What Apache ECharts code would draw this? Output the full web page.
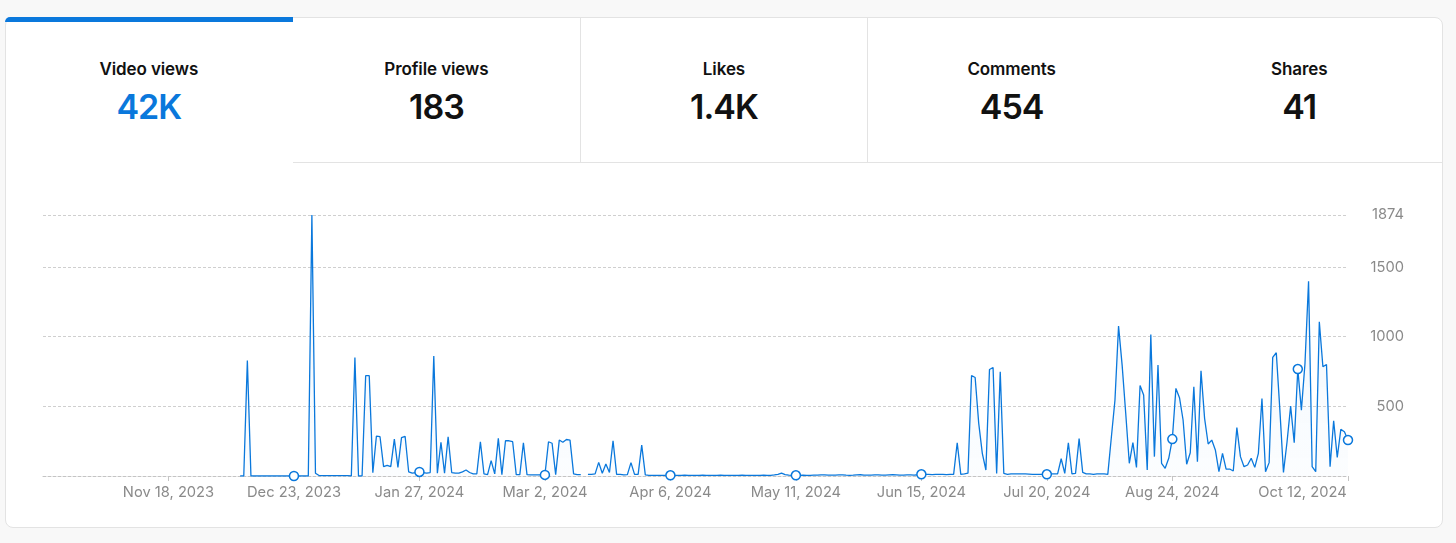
<!DOCTYPE html>
<html>
<head>
<meta charset="utf-8">
<script src="https://cdn.jsdelivr.net/npm/echarts@6/dist/echarts.min.js"></script>
<style>
  html,body{margin:0;padding:0;}
  body{width:1456px;height:543px;overflow:hidden;background:#f8f8f8;font-family:Inter,"Noto Sans",sans-serif;position:relative;}
  .card{position:absolute;left:5px;top:17px;width:1436px;height:509px;background:#fff;border:1px solid #e3e3e3;border-radius:8px;}
  .tab{position:absolute;top:17px;height:145px;text-align:center;}
  .tab .t{position:absolute;left:0;right:0;top:40px;font-size:17px;font-weight:600;color:#111;line-height:24px;letter-spacing:-0.1px;}
  .tab .v{position:absolute;left:0;right:0;top:69px;font-size:34px;font-weight:600;color:#111;line-height:42px;letter-spacing:-1px;}
  .tab.sel .v{color:#0a78dc;}
  .bar{position:absolute;left:5px;top:17px;width:288px;height:5px;background:#0a78dc;border-top-left-radius:8px;}
  .hline{position:absolute;left:293px;top:162px;width:1149px;height:1px;background:#e3e3e3;}
  .vline{position:absolute;top:18px;width:1px;height:144px;background:#e3e3e3;}
  #chart{position:absolute;left:0;top:163px;width:1456px;height:380px;}
</style>
</head>
<body>
<div class="card"></div>
<div class="bar"></div>
<div class="hline"></div>
<div class="vline" style="left:580px"></div>
<div class="vline" style="left:867px"></div>
<div id="tabs"></div>
<div id="chart"></div>
<script>
// ---- Data ----
const tabTitles = ['Video views', 'Profile views', 'Likes', 'Comments', 'Shares'];
const tabValues = ['42K', '183', '1.4K', '454', '41'];
const startDate = '2023-10-14';
const yTicks = [500, 1000, 1500, 1874];
const labelDays = [35, 70, 105, 140, 175, 210, 245, 280, 315, 364];
const markerDays = [70, 105, 140, 175, 210, 245, 280, 315, 350, 364];
const videoViews = [
  null,null,null,null,null,null,null,null,null,null,
  null,null,null,null,null,null,null,null,null,null,
  null,null,null,null,null,null,null,null,null,null,
  null,null,null,null,null,null,null,null,null,null,
  null,null,null,null,null,null,null,null,null,null,
  null,null,null,null,null,0,0,830,0,0,
  0,0,0,0,0,0,0,0,0,0,
  0,0,0,0,0,1874,20,3,3,3,
  3,3,3,3,3,3,0,851,0,0,
  720,720,24,287,282,67,77,67,265,62,
  275,285,29,20,25,29,25,20,25,861,
  20,242,20,282,25,20,20,30,43,25,
  15,15,246,15,10,110,15,270,10,253,
  253,246,10,10,239,10,8,8,8,8,
  8,246,235,10,258,242,262,258,15,10,
  10,null,12,12,15,98,20,86,25,253,
  12,12,8,10,96,12,12,222,8,5,
  5,5,5,5,5,5,5,4,5,6,
  5,4,5,5,6,5,4,5,5,6,
  5,5,4,5,5,6,5,5,4,5,
  5,6,5,5,8,12,20,10,6,5,
  5,5,6,5,5,6,7,8,8,6,
  6,7,8,8,6,5,6,8,9,7,
  6,7,8,8,7,6,8,9,8,6,
  7,8,8,7,9,12,12,12,10,12,
  12,12,10,12,12,239,12,15,20,722,
  707,378,163,43,765,779,19,748,19,12,
  15,15,15,15,15,14,12,12,12,12,
  12,15,15,15,124,19,239,15,19,268,
  26,15,15,12,15,15,15,12,280,545,
  1076,796,450,91,239,62,650,581,43,1016,
  139,796,91,55,127,265,629,562,402,84,
  167,641,103,755,414,230,258,187,31,163,
  50,50,36,347,139,67,79,127,62,163,
  557,31,96,851,885,473,26,246,502,239,
  768,473,808,1399,67,31,1107,784,801,67,
  397,134,335,318,258
];

// ---- Header tabs ----
const tabsEl = document.getElementById('tabs');
const tabW = 1438 / 5;
tabTitles.forEach((t, i) => {
  const d = document.createElement('div');
  d.className = 'tab' + (i === 0 ? ' sel' : '');
  d.style.left = (5 + tabW * i) + 'px';
  d.style.width = tabW + 'px';
  d.innerHTML = '<div class="t"></div><div class="v"></div>';
  d.querySelector('.t').textContent = t;
  d.querySelector('.v').textContent = tabValues[i];
  tabsEl.appendChild(d);
});

// ---- Categories (dates) ----
const MONTHS = ['Jan','Feb','Mar','Apr','May','Jun','Jul','Aug','Sep','Oct','Nov','Dec'];
const base = new Date(startDate + 'T00:00:00Z');
const categories = videoViews.map((_, i) => {
  const d = new Date(base.getTime() + i * 86400000);
  return MONTHS[d.getUTCMonth()] + ' ' + d.getUTCDate() + ', ' + d.getUTCFullYear();
});
const lastIdx = categories.length - 1;

const BLUE = '#0a78dc';
const GREY = '#8a8a8a';
const FS = 14.7;
const chart = echarts.init(document.getElementById('chart'), null, {renderer: 'canvas'});
chart.setOption({
  animation: false,
  grid: {left: 43, right: 108, top: 52, bottom: 67, containLabel: false},
  xAxis: {
    type: 'category',
    data: categories,
    boundaryGap: false,
    axisLine: {lineStyle: {color: '#c4c4c4', type: [3, 2]}},
    axisTick: {
      show: true,
      length: 5,
      interval: (idx) => labelDays.includes(idx),
      lineStyle: {color: '#c4c4c4'}
    },
    axisLabel: {
      interval: (idx) => labelDays.includes(idx),
      color: GREY,
      fontSize: FS,
      fontFamily: 'Inter',
      margin: 9,
      formatter: (v, idx) => idx === lastIdx ? '{r|' + v + '}' : v,
      rich: {r: {color: GREY, fontSize: FS, fontFamily: 'Inter', padding: [0, 91, 0, 0]}}
    },
    splitLine: {show: false}
  },
  yAxis: {
    type: 'value',
    position: 'right',
    min: 0,
    max: yTicks[yTicks.length - 1],
    interval: 500,
    axisLine: {show: false},
    axisTick: {show: false},
    axisLabel: {
      color: GREY,
      fontSize: FS,
      fontFamily: 'Inter',
      align: 'right',
      margin: 56,
      formatter: (v) => yTicks.includes(v) ? String(v) : ''
    },
    splitLine: {lineStyle: {color: '#cfcfcf', type: [3, 2], width: 1}}
  },
  series: [{
    type: 'line',
    data: videoViews,
    connectNulls: false,
    showAllSymbol: true,
    symbol: (val, params) => markerDays.includes(params.dataIndex) ? 'circle' : 'none',
    symbolSize: 9,
    itemStyle: {color: '#fff', borderColor: BLUE, borderWidth: 1.5},
    lineStyle: {color: BLUE, width: 1.3},
    areaStyle: {
      color: new echarts.graphic.LinearGradient(0, 0, 0, 1, [
        {offset: 0, color: 'rgba(10,120,220,0.10)'},
        {offset: 1, color: 'rgba(10,120,220,0.02)'}
      ])
    },
    emphasis: {disabled: true}
  }]
});
</script>
</body>
</html>
